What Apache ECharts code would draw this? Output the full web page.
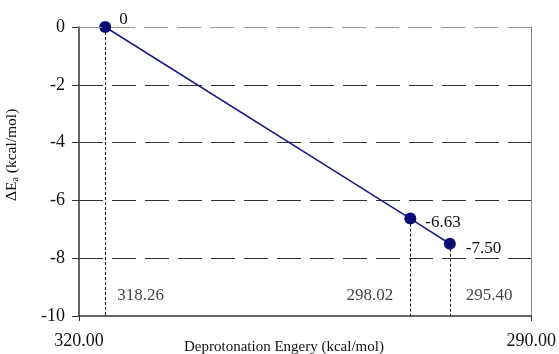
<!DOCTYPE html>
<html>
<head>
<meta charset="utf-8">
<script src="https://cdn.jsdelivr.net/npm/echarts@6/dist/echarts.min.js"></script>
<style>html,body{margin:0;padding:0;background:#fff;}#c{width:559px;height:354px;}</style>
</head>
<body>
<div id="c"></div>
<script>
// Data
const energies = [318.26, 298.02, 295.40];      // deprotonation energy (kcal/mol)
const deltaEa = [0, -6.63, -7.50];               // ΔEa (kcal/mol)
const valueLabels = ['0', '-6.63', '-7.50'];
const energyLabels = ['318.26', '298.02', '295.40'];
const xTicks = [290, 320];
const yTicks = [-10, -8, -6, -4, -2, 0];

const FONT = '"Liberation Serif", "Times New Roman", serif';
const navy = '#0d0d7a';

const chart = echarts.init(document.getElementById('c'));

const points = energies.map((x, i) => [x, deltaEa[i]]);
const labelOffsets = [[2, -7], [3, 4], [4, 5]];
const bottomLabelPos = ['right', 'left', 'right'];
const bottomDist = [12, 17, 16];
const bottomY = -9.3;

chart.setOption({
  animation: false,
  grid: { left: 79, right: 24, top: 27, bottom: 38 },
  xAxis: {
    type: 'value',
    inverse: true,
    min: xTicks[0],
    max: xTicks[1],
    interval: xTicks[1] - xTicks[0],
    axisLine: { onZero: false, lineStyle: { color: '#333', width: 1.5 } },
    axisTick: { show: true, length: 5, lineStyle: { color: '#333' } },
    axisLabel: { fontFamily: FONT, fontSize: 18, color: '#111', margin: 16,
      formatter: v => v.toFixed(2) },
    splitLine: { show: false }
  },
  yAxis: [{
    type: 'value',
    min: yTicks[0],
    max: yTicks[yTicks.length - 1],
    interval: 2,
    axisLine: { show: true, onZero: false, lineStyle: { color: '#333', width: 1.5 } },
    axisTick: { show: true, length: 7, lineStyle: { color: '#333' } },
    axisLabel: { fontFamily: FONT, fontSize: 18, color: '#111', margin: 14 },
    splitLine: { show: true, showMinLine: false, showMaxLine: false,
      lineStyle: { color: '#333', type: [24, 9], width: 1.2 } }
  }, {
    type: 'value',
    position: 'right',
    min: yTicks[0],
    max: yTicks[yTicks.length - 1],
    interval: 2,
    axisLine: { show: true, onZero: false, lineStyle: { color: '#888', width: 1 } },
    axisTick: { show: false },
    axisLabel: { show: false },
    splitLine: { show: false }
  }],
  graphic: [
    { type: 'text', left: 184, top: 340,
      style: { text: 'Deprotonation Engery (kcal/mol)', font: '15px ' + FONT, fill: '#111' } },
    { type: 'text', x: 4, y: 201, rotation: Math.PI / 2,
      style: { text: '{n|ΔE}{s|a}{n| (kcal/mol)}', rich: {
        n: { fontFamily: FONT, fontSize: 15.5, fill: '#111' },
        s: { fontFamily: FONT, fontSize: 10, fill: '#111', padding: [6, 0, 0, 0] } } } }
  ],
  series: [
    {
      type: 'line',
      data: points.map((p, i) => ({ value: p,
        label: { show: true, formatter: valueLabels[i], position: 'right',
          offset: labelOffsets[i], distance: 6 } })),
      symbol: 'circle',
      symbolSize: 12,
      itemStyle: { color: navy },
      lineStyle: { color: '#1a1a8a', width: 1.5 },
      label: { fontFamily: FONT, fontSize: 17, color: '#111' },
      markLine: {
        silent: true,
        symbol: ['none', 'none'],
        label: { show: false },
        lineStyle: { color: '#111', type: [3, 2], width: 1 },
        data: points.map(p => [{ coord: [p[0], p[1]] }, { coord: [p[0], yTicks[0]] }])
      },
      z: 3
    },
    {
      type: 'scatter',
      symbolSize: 0,
      data: energies.map((x, i) => ({ value: [x, bottomY],
        label: { show: true, formatter: energyLabels[i], position: bottomLabelPos[i], distance: bottomDist[i] } })),
      label: { fontFamily: FONT, fontSize: 17, color: '#111' },
      silent: true,
      markLine: {
        silent: true,
        symbol: ['none', 'none'],
        label: { show: false },
        lineStyle: { color: '#999', type: [24, 9], width: 1 },
        data: [{ yAxis: yTicks[yTicks.length - 1] }]
      },
      z: 1
    }
  ]
});
</script>
</body>
</html>
